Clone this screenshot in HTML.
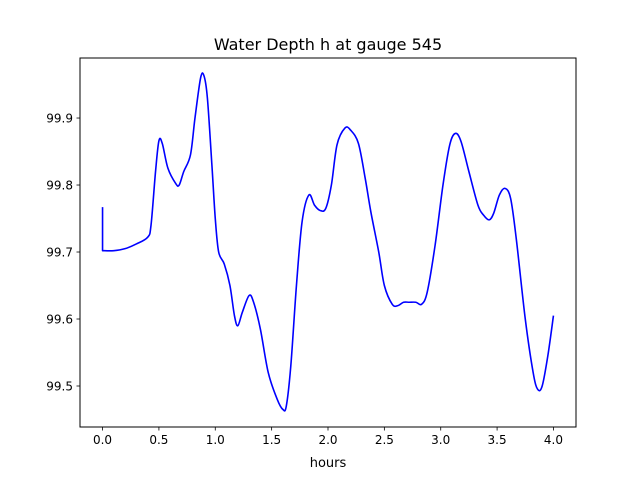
<!DOCTYPE html>
<html><head><meta charset="utf-8">
<style>
html,body{margin:0;padding:0;background:#fff;}
svg{display:block;font-family:"DejaVu Sans","Liberation Sans",sans-serif;}
</style></head>
<body>
<svg id="chart" width="640" height="480" viewBox="0 0 640 480" xmlns="http://www.w3.org/2000/svg">
<rect width="640" height="480" fill="#fff"/>
<text x="328" y="50" text-anchor="middle" font-size="16">Water Depth h at gauge 545</text>
<text x="328" y="467" text-anchor="middle" font-size="13">hours</text>
<g id="axes"></g>
</svg>
<script>
const hours = [0,0,0.1,0.2,0.3,0.4,0.43,0.47,0.5,0.53,0.58,0.65,0.68,0.72,0.78,0.82,0.87,0.9,0.93,0.97,1.0,1.03,1.08,1.13,1.17,1.2,1.24,1.3,1.34,1.4,1.47,1.55,1.6,1.63,1.67,1.72,1.77,1.83,1.88,1.93,1.98,2.03,2.08,2.15,2.2,2.27,2.33,2.38,2.45,2.5,2.57,2.62,2.67,2.72,2.78,2.83,2.88,2.95,3.02,3.08,3.13,3.18,3.25,3.33,3.38,3.43,3.47,3.52,3.57,3.62,3.67,3.75,3.82,3.86,3.9,3.95,4.0];
const depth = [99.767,99.702,99.702,99.705,99.712,99.722,99.74,99.82,99.866,99.862,99.825,99.802,99.80,99.82,99.845,99.9,99.96,99.963,99.93,99.83,99.75,99.70,99.682,99.65,99.605,99.59,99.61,99.635,99.625,99.585,99.52,99.48,99.465,99.47,99.53,99.65,99.745,99.785,99.77,99.762,99.765,99.8,99.86,99.885,99.882,99.862,99.81,99.76,99.7,99.65,99.622,99.62,99.625,99.625,99.625,99.622,99.64,99.71,99.8,99.86,99.877,99.865,99.82,99.77,99.755,99.748,99.758,99.785,99.795,99.78,99.72,99.6,99.52,99.495,99.5,99.545,99.605];
const xTicks = [0,0.5,1,1.5,2,2.5,3,3.5,4];
const xTickLabels = ["0.0","0.5","1.0","1.5","2.0","2.5","3.0","3.5","4.0"];
const yTicks = [99.5,99.6,99.7,99.8,99.9];
const yTickLabels = ["99.5","99.6","99.7","99.8","99.9"];

const L=80,R=576,T=58,B=427;
const xMin=-0.2,xMax=4.2,yMin=99.4388,yMax=99.9896;
const sx=v=>L+(v-xMin)/(xMax-xMin)*(R-L);
const sy=v=>B-(v-yMin)/(yMax-yMin)*(B-T);
const NS="http://www.w3.org/2000/svg";
const g=document.getElementById('axes');
function mk(t,a){const e=document.createElementNS(NS,t);for(const k in a)e.setAttribute(k,a[k]);g.appendChild(e);return e;}

const P=hours.map((h,i)=>[sx(h),sy(depth[i])]);
let d='M'+P[0][0].toFixed(2)+','+P[0][1].toFixed(2)+' L'+P[1][0].toFixed(2)+','+P[1][1].toFixed(2);
for(let i=1;i<P.length-1;i++){
  const p0=i>1?P[i-1]:P[i],p1=P[i],p2=P[i+1],p3=i+2<P.length?P[i+2]:P[i+1];
  const c1=[p1[0]+(p2[0]-p0[0])/6,p1[1]+(p2[1]-p0[1])/6];
  const c2=[p2[0]-(p3[0]-p1[0])/6,p2[1]-(p3[1]-p1[1])/6];
  d+=' C'+c1[0].toFixed(2)+','+c1[1].toFixed(2)+' '+c2[0].toFixed(2)+','+c2[1].toFixed(2)+' '+p2[0].toFixed(2)+','+p2[1].toFixed(2);
}
const line=mk('path',{d:d,fill:'none',stroke:'#0000ff','stroke-width':1.6,'stroke-linejoin':'round'});



const frame=mk('rect',{x:L,y:T,width:R-L,height:B-T,fill:'none',stroke:'#000','stroke-width':1});



xTicks.forEach((v,i)=>{
  const x=sx(v);
  const tk=mk('line',{x1:x,x2:x,y1:B,y2:B+3.5,stroke:'#000','stroke-width':0.8});
  
  
  const tx=mk('text',{x:x,y:B+17,'text-anchor':'middle','font-size':'12'});
  tx.textContent=xTickLabels[i];
  
  
});
yTicks.forEach((v,i)=>{
  const y=sy(v);
  const tk=mk('line',{x1:L-3.5,x2:L,y1:y,y2:y,stroke:'#000','stroke-width':0.8});
  
  
  const tx=mk('text',{x:L-7,y:y+4.5,'text-anchor':'end','font-size':'12'});
  tx.textContent=yTickLabels[i];
  
  
});
</script>
</body></html>
